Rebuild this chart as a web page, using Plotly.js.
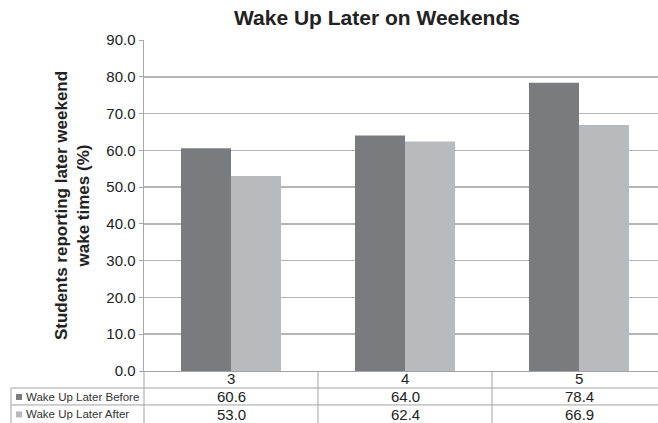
<!DOCTYPE html>
<html>
<head>
<meta charset="utf-8">
<script src="https://cdn.plot.ly/plotly-3.0.1.min.js"></script>
<style>html,body{margin:0;padding:0;background:#fff;}#chart{width:658px;height:423px;}</style>
</head>
<body>
<div id="chart"></div>
<script>
const categories = ["3", "4", "5"];
const seriesNames = ["Wake Up Later Before", "Wake Up Later After"];
const beforeValues = [60.6, 64.0, 78.4];
const afterValues = [53.0, 62.4, 66.9];
const yTickValues = [0, 10, 20, 30, 40, 50, 60, 70, 80, 90];
const yTickLabels = ["0.0", "10.0", "20.0", "30.0", "40.0", "50.0", "60.0", "70.0", "80.0", "90.0"];

const colors = ["#7a7b7f", "#b9babe"];
const seriesValues = [beforeValues, afterValues];
const FONT = "Liberation Sans, Arial, Helvetica, sans-serif";

const W = 658, H = 423;
const mL = 144, mR = 0, mT = 39.5, mB = 52;
const plotW = W - mL - mR, plotH = H - mT - mB;
const px2py = p => (H - mB - p) / plotH;   // pixel y -> paper y
const px2px = p => (p - mL) / plotW;       // pixel x -> paper x

const traces = seriesNames.map((name, i) => ({
  type: "bar",
  name: name,
  x: categories,
  y: seriesValues[i],
  marker: { color: colors[i], line: { width: 0 } },
  hoverinfo: "skip"
}));

const lineStyle = { color: "#a3a3a3", width: 1 };
const shapes = [];
const annotations = [];

// table outline
const rowTop1 = px2py(388), rowTop2 = px2py(405), bottom = px2py(423);
shapes.push({ type: "line", xref: "paper", yref: "paper", x0: px2px(11), x1: 1, y0: rowTop1, y1: rowTop1, line: lineStyle });
shapes.push({ type: "line", xref: "paper", yref: "paper", x0: px2px(11), x1: 1, y0: rowTop2, y1: rowTop2, line: lineStyle });
shapes.push({ type: "line", xref: "paper", yref: "paper", x0: px2px(11), x1: px2px(11), y0: rowTop1, y1: bottom, line: lineStyle });
shapes.push({ type: "line", xref: "paper", yref: "paper", x0: 0, x1: 0, y0: 0, y1: bottom, line: lineStyle });
for (let k = 0; k < categories.length - 1; k++) {
  shapes.push({ type: "line", xref: "x", yref: "paper", x0: k + 0.5, x1: k + 0.5, y0: 0, y1: bottom, line: lineStyle });
}

// category row (annotation x uses the category index on the category axis)
categories.forEach((c, j) => {
  annotations.push({ xref: "x", yref: "paper", x: j, y: px2py(379), text: c, showarrow: false,
    xanchor: "center", yanchor: "middle", font: { family: FONT, size: 15, color: "#222" } });
});

// series rows
const rowCenters = [px2py(397), px2py(414.5)];
seriesNames.forEach((name, i) => {
  shapes.push({ type: "rect", xref: "paper", yref: "paper",
    x0: px2px(16), x1: px2px(22), y0: rowCenters[i] - 3 / plotH, y1: rowCenters[i] + 3 / plotH,
    fillcolor: colors[i], line: { width: 0 } });
  annotations.push({ xref: "paper", yref: "paper", x: px2px(24), y: rowCenters[i], text: name, showarrow: false,
    xanchor: "left", yanchor: "middle", font: { family: FONT, size: 11.5, color: "#333" } });
  categories.forEach((c, j) => {
    annotations.push({ xref: "x", yref: "paper", x: j, y: rowCenters[i], text: seriesValues[i][j].toFixed(1),
      showarrow: false, xanchor: "center", yanchor: "middle", font: { family: FONT, size: 15, color: "#222" } });
  });
});

const layout = {
  width: W, height: H,
  margin: { l: mL, r: mR, t: mT, b: mB, pad: 0 },
  paper_bgcolor: "#fff", plot_bgcolor: "#fff",
  showlegend: false,
  barmode: "group",
  bargap: 0.425,
  bargroupgap: 0,
  title: { text: "<b>Wake Up Later on Weekends</b>", x: 377 / W, xanchor: "center", y: 1 - 18 / H, yanchor: "middle",
    font: { family: FONT, size: 21, color: "#222" } },
  xaxis: { type: "category", range: [-0.5, 2.454], showticklabels: false, ticks: "", showgrid: false,
    showline: true, linecolor: "#a3a3a3", linewidth: 1, zeroline: false, fixedrange: true },
  yaxis: { range: [0, 90], tickvals: yTickValues, ticktext: yTickLabels, ticks: "outside", ticklen: 4,
    tickcolor: "#a8a8a8", tickwidth: 1, showgrid: true, gridcolor: "#b5b5b5", gridwidth: 1.5,
    showline: true, linecolor: "#a8a8a8", linewidth: 1.5, zeroline: false, automargin: false,
    tickfont: { family: FONT, size: 15, color: "#222" },
    title: { text: "<b>Students reporting later weekend<br>wake times (%)</b>", standoff: 12,
      font: { family: FONT, size: 17, color: "#222" } } },
  shapes: shapes,
  annotations: annotations
};

Plotly.newPlot("chart", traces, layout, { staticPlot: true, displayModeBar: false });
</script>
</body>
</html>
